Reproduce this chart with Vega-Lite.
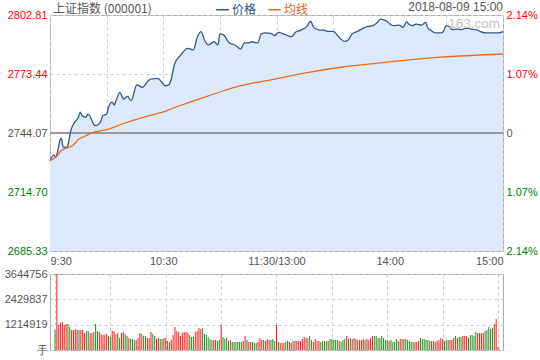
{
"$schema": "https://vega.github.io/schema/vega-lite/v6.json",
"padding": {"left": 3, "top": 0, "right": 0, "bottom": 0},
"background": "white",
"config": {
  "font": "Liberation Sans",
  "view": {"stroke": "#aaaaaa", "strokeWidth": 1},
  "axis": {"labelFont": "Liberation Sans", "labelFontSize": 11, "labelColor": "#555555", "ticks": false, "domain": false, "gridColor": "#cccccc", "gridDash": [3, 3], "title": null, "labelPadding": 3},
  "title": {"font": "Liberation Sans", "fontSize": 12, "fontWeight": "normal", "color": "#555555"}
},
"datasets": {
  "px": [
    {"t":0,"s":"价格","p":2730.3},{"t":2,"s":"价格","p":2733.1},{"t":3,"s":"价格","p":2732.1},{"t":4,"s":"价格","p":2734.6},{"t":5,"s":"价格","p":2739.4},{"t":6,"s":"价格","p":2741.4},{"t":7,"s":"价格","p":2737.0},{"t":9,"s":"价格","p":2737.0},{"t":10,"s":"价格","p":2740.2},{"t":11,"s":"价格","p":2745.2},{"t":12,"s":"价格","p":2747.7},{"t":13,"s":"价格","p":2749.4},{"t":15,"s":"价格","p":2751.9},{"t":16,"s":"价格","p":2754.4},{"t":17,"s":"价格","p":2752.7},{"t":19,"s":"价格","p":2751.9},{"t":20,"s":"价格","p":2753.5},{"t":21,"s":"价格","p":2752.7},{"t":23,"s":"价格","p":2748.6},{"t":24,"s":"价格","p":2747.7},{"t":26,"s":"价格","p":2748.6},{"t":27,"s":"价格","p":2750.2},{"t":28,"s":"价格","p":2752.7},{"t":30,"s":"价格","p":2753.5},{"t":31,"s":"价格","p":2756.9},{"t":33,"s":"价格","p":2759.4},{"t":34,"s":"价格","p":2758.0},{"t":35,"s":"价格","p":2760.2},{"t":37,"s":"价格","p":2764.3},{"t":39,"s":"价格","p":2761.0},{"t":41,"s":"价格","p":2762.3},{"t":43,"s":"价格","p":2760.2},{"t":46,"s":"价格","p":2768.0},{"t":49,"s":"价格","p":2766.8},{"t":52,"s":"价格","p":2770.1},{"t":54,"s":"价格","p":2771.0},{"t":57,"s":"价格","p":2771.3},{"t":59,"s":"价格","p":2769.6},{"t":61,"s":"价格","p":2767.6},{"t":63,"s":"价格","p":2768.0},{"t":64,"s":"价格","p":2770.1},{"t":66,"s":"价格","p":2778.4},{"t":69,"s":"价格","p":2782.6},{"t":73,"s":"价格","p":2786.2},{"t":76,"s":"价格","p":2785.4},{"t":78,"s":"价格","p":2791.7},{"t":80,"s":"价格","p":2794.5},{"t":82,"s":"价格","p":2790.0},{"t":84,"s":"价格","p":2787.9},{"t":87,"s":"价格","p":2789.5},{"t":89,"s":"价格","p":2787.9},{"t":90,"s":"价格","p":2793.4},{"t":92,"s":"价格","p":2792.9},{"t":95,"s":"价格","p":2788.9},{"t":98,"s":"价格","p":2787.9},{"t":101,"s":"价格","p":2785.9},{"t":103,"s":"价格","p":2788.9},{"t":105,"s":"价格","p":2788.9},{"t":107,"s":"价格","p":2789.5},{"t":110,"s":"价格","p":2788.9},{"t":112,"s":"价格","p":2793.4},{"t":114,"s":"价格","p":2793.9},{"t":117,"s":"价格","p":2793.7},{"t":119,"s":"价格","p":2792.5},{"t":121,"s":"价格","p":2794.2},{"t":123,"s":"价格","p":2793.7},{"t":126,"s":"价格","p":2792.5},{"t":128,"s":"价格","p":2792.0},{"t":130,"s":"价格","p":2794.2},{"t":133,"s":"价格","p":2795.3},{"t":136,"s":"价格","p":2797.0},{"t":138,"s":"价格","p":2799.7},{"t":140,"s":"价格","p":2796.3},{"t":143,"s":"价格","p":2795.3},{"t":145,"s":"价格","p":2795.3},{"t":147,"s":"价格","p":2794.7},{"t":150,"s":"价格","p":2794.7},{"t":152,"s":"价格","p":2793.0},{"t":154,"s":"价格","p":2790.9},{"t":156,"s":"价格","p":2789.7},{"t":158,"s":"价格","p":2790.4},{"t":160,"s":"价格","p":2793.4},{"t":163,"s":"价格","p":2794.7},{"t":166,"s":"价格","p":2796.3},{"t":168,"s":"价格","p":2797.0},{"t":171,"s":"价格","p":2797.5},{"t":173,"s":"价格","p":2798.7},{"t":175,"s":"价格","p":2800.8},{"t":178,"s":"价格","p":2800.0},{"t":180,"s":"价格","p":2798.3},{"t":182,"s":"价格","p":2797.5},{"t":185,"s":"价格","p":2797.8},{"t":187,"s":"价格","p":2796.7},{"t":189,"s":"价格","p":2799.5},{"t":190,"s":"价格","p":2798.3},{"t":192,"s":"价格","p":2797.5},{"t":194,"s":"价格","p":2798.3},{"t":197,"s":"价格","p":2797.8},{"t":199,"s":"价格","p":2799.2},{"t":200,"s":"价格","p":2796.7},{"t":202,"s":"价格","p":2795.0},{"t":204,"s":"价格","p":2793.9},{"t":206,"s":"价格","p":2793.9},{"t":208,"s":"价格","p":2794.2},{"t":210,"s":"价格","p":2797.5},{"t":212,"s":"价格","p":2796.7},{"t":213,"s":"价格","p":2795.5},{"t":216,"s":"价格","p":2795.8},{"t":218,"s":"价格","p":2795.5},{"t":220,"s":"价格","p":2796.2},{"t":222,"s":"价格","p":2796.2},{"t":223,"s":"价格","p":2795.8},{"t":226,"s":"价格","p":2795.5},{"t":228,"s":"价格","p":2794.5},{"t":231,"s":"价格","p":2793.9},{"t":234,"s":"价格","p":2793.9},{"t":236,"s":"价格","p":2793.9},{"t":238,"s":"价格","p":2793.9},{"t":240,"s":"价格","p":2794.5},
    {"t":0,"s":"均线","p":2730.3},{"t":3,"s":"均线","p":2732.0},{"t":6,"s":"均线","p":2735.3},{"t":9,"s":"均线","p":2736.6},{"t":12,"s":"均线","p":2737.8},{"t":15,"s":"均线","p":2740.8},{"t":19,"s":"均线","p":2742.7},{"t":22,"s":"均线","p":2744.1},{"t":30,"s":"均线","p":2745.7},{"t":39,"s":"均线","p":2748.8},{"t":48,"s":"均线","p":2751.5},{"t":56,"s":"均线","p":2753.5},{"t":62,"s":"均线","p":2755.2},{"t":65,"s":"均线","p":2756.4},{"t":75,"s":"均线","p":2759.7},{"t":84,"s":"均线","p":2762.6},{"t":92,"s":"均线","p":2765.1},{"t":101,"s":"均线","p":2767.6},{"t":117,"s":"均线","p":2770.5},{"t":137,"s":"均线","p":2774.3},{"t":154,"s":"均线","p":2776.8},{"t":181,"s":"均线","p":2779.6},{"t":207,"s":"均线","p":2781.8},{"t":240,"s":"均线","p":2783.4}
  ],
  "vol": [
    {"t":0,"v":959000,"c":"g"},{"t":1,"v":3644756,"c":"r"},{"t":2,"v":1213000,"c":"r"},{"t":3,"v":1295000,"c":"r"},{"t":4,"v":1343000,"c":"r"},{"t":5,"v":1199000,"c":"r"},{"t":6,"v":1247000,"c":"r"},{"t":7,"v":1247000,"c":"g"},{"t":8,"v":1103000,"c":"g"},{"t":9,"v":959000,"c":"r"},
    {"t":10,"v":959000,"c":"r"},{"t":11,"v":1007000,"c":"r"},{"t":12,"v":959000,"c":"r"},{"t":13,"v":959000,"c":"g"},{"t":14,"v":959000,"c":"r"},{"t":15,"v":959000,"c":"r"},{"t":16,"v":815000,"c":"r"},{"t":17,"v":911000,"c":"g"},{"t":18,"v":911000,"c":"g"},{"t":19,"v":815000,"c":"r"},
    {"t":20,"v":815000,"c":"r"},{"t":21,"v":863000,"c":"g"},{"t":22,"v":1247000,"c":"g"},{"t":23,"v":911000,"c":"g"},{"t":24,"v":863000,"c":"r"},{"t":25,"v":767000,"c":"r"},{"t":26,"v":719000,"c":"r"},{"t":27,"v":719000,"c":"r"},{"t":28,"v":767000,"c":"r"},{"t":29,"v":671000,"c":"g"},
    {"t":30,"v":623000,"c":"g"},{"t":31,"v":911000,"c":"r"},{"t":32,"v":911000,"c":"r"},{"t":33,"v":767000,"c":"r"},{"t":34,"v":815000,"c":"g"},{"t":35,"v":575000,"c":"g"},{"t":36,"v":815000,"c":"r"},{"t":37,"v":863000,"c":"r"},{"t":38,"v":767000,"c":"g"},{"t":39,"v":671000,"c":"g"},
    {"t":40,"v":575000,"c":"r"},{"t":41,"v":528000,"c":"g"},{"t":42,"v":528000,"c":"g"},{"t":43,"v":480000,"c":"g"},{"t":44,"v":480000,"c":"r"},{"t":45,"v":575000,"c":"r"},{"t":46,"v":815000,"c":"r"},{"t":47,"v":767000,"c":"r"},{"t":48,"v":671000,"c":"g"},{"t":49,"v":671000,"c":"g"},
    {"t":50,"v":575000,"c":"r"},{"t":51,"v":575000,"c":"r"},{"t":52,"v":863000,"c":"r"},{"t":53,"v":767000,"c":"g"},{"t":54,"v":671000,"c":"g"},{"t":55,"v":528000,"c":"r"},{"t":56,"v":575000,"c":"r"},{"t":57,"v":528000,"c":"g"},{"t":58,"v":528000,"c":"g"},{"t":59,"v":575000,"c":"r"},
    {"t":60,"v":575000,"c":"r"},{"t":61,"v":432000,"c":"g"},{"t":62,"v":384000,"c":"r"},{"t":63,"v":480000,"c":"r"},{"t":64,"v":719000,"c":"r"},{"t":65,"v":1103000,"c":"r"},{"t":66,"v":911000,"c":"r"},{"t":67,"v":863000,"c":"r"},{"t":68,"v":671000,"c":"r"},{"t":69,"v":815000,"c":"r"},
    {"t":70,"v":863000,"c":"r"},{"t":71,"v":863000,"c":"r"},{"t":72,"v":815000,"c":"r"},{"t":73,"v":719000,"c":"g"},{"t":74,"v":623000,"c":"g"},{"t":75,"v":623000,"c":"g"},{"t":76,"v":863000,"c":"r"},{"t":77,"v":911000,"c":"r"},{"t":78,"v":1055000,"c":"r"},{"t":79,"v":1007000,"c":"r"},
    {"t":80,"v":1055000,"c":"g"},{"t":81,"v":767000,"c":"g"},{"t":82,"v":719000,"c":"g"},{"t":83,"v":623000,"c":"g"},{"t":84,"v":528000,"c":"g"},{"t":85,"v":480000,"c":"g"},{"t":86,"v":480000,"c":"r"},{"t":87,"v":480000,"c":"r"},{"t":88,"v":432000,"c":"g"},{"t":89,"v":480000,"c":"g"},
    {"t":90,"v":1199000,"c":"r"},{"t":91,"v":623000,"c":"g"},{"t":92,"v":528000,"c":"g"},{"t":93,"v":575000,"c":"g"},{"t":94,"v":432000,"c":"g"},{"t":95,"v":480000,"c":"r"},{"t":96,"v":384000,"c":"g"},{"t":97,"v":384000,"c":"g"},{"t":98,"v":384000,"c":"g"},{"t":99,"v":384000,"c":"g"},
    {"t":100,"v":384000,"c":"g"},{"t":101,"v":384000,"c":"g"},{"t":102,"v":432000,"c":"r"},{"t":103,"v":671000,"c":"r"},{"t":104,"v":480000,"c":"g"},{"t":105,"v":384000,"c":"r"},{"t":106,"v":384000,"c":"r"},{"t":107,"v":384000,"c":"g"},{"t":108,"v":336000,"c":"g"},{"t":109,"v":336000,"c":"g"},
    {"t":110,"v":384000,"c":"r"},{"t":111,"v":575000,"c":"r"},{"t":112,"v":480000,"c":"r"},{"t":113,"v":480000,"c":"g"},{"t":114,"v":432000,"c":"r"},{"t":115,"v":528000,"c":"r"},{"t":116,"v":480000,"c":"r"},{"t":117,"v":480000,"c":"g"},{"t":118,"v":528000,"c":"g"},{"t":119,"v":432000,"c":"g"},
    {"t":120,"v":1199000,"c":"r"},{"t":121,"v":384000,"c":"g"},{"t":122,"v":336000,"c":"r"},{"t":123,"v":336000,"c":"r"},{"t":124,"v":336000,"c":"r"},{"t":125,"v":384000,"c":"g"},{"t":126,"v":432000,"c":"g"},{"t":127,"v":384000,"c":"r"},{"t":128,"v":336000,"c":"r"},{"t":129,"v":432000,"c":"g"},
    {"t":130,"v":432000,"c":"r"},{"t":131,"v":432000,"c":"r"},{"t":132,"v":432000,"c":"r"},{"t":133,"v":432000,"c":"r"},{"t":134,"v":528000,"c":"r"},{"t":135,"v":623000,"c":"r"},{"t":136,"v":575000,"c":"r"},{"t":137,"v":575000,"c":"g"},{"t":138,"v":671000,"c":"g"},{"t":139,"v":480000,"c":"r"},
    {"t":140,"v":384000,"c":"g"},{"t":141,"v":528000,"c":"r"},{"t":142,"v":432000,"c":"r"},{"t":143,"v":432000,"c":"r"},{"t":144,"v":384000,"c":"g"},{"t":145,"v":432000,"c":"g"},{"t":146,"v":432000,"c":"g"},{"t":147,"v":432000,"c":"g"},{"t":148,"v":432000,"c":"r"},{"t":149,"v":528000,"c":"g"},
    {"t":150,"v":528000,"c":"g"},{"t":151,"v":480000,"c":"g"},{"t":152,"v":480000,"c":"g"},{"t":153,"v":480000,"c":"g"},{"t":154,"v":432000,"c":"r"},{"t":155,"v":384000,"c":"g"},{"t":156,"v":480000,"c":"g"},{"t":157,"v":528000,"c":"g"},{"t":158,"v":671000,"c":"r"},{"t":159,"v":528000,"c":"g"},
    {"t":160,"v":575000,"c":"r"},{"t":161,"v":528000,"c":"g"},{"t":162,"v":575000,"c":"r"},{"t":163,"v":528000,"c":"r"},{"t":164,"v":480000,"c":"g"},{"t":165,"v":480000,"c":"r"},{"t":166,"v":480000,"c":"r"},{"t":167,"v":528000,"c":"r"},{"t":168,"v":480000,"c":"g"},{"t":169,"v":528000,"c":"r"},
    {"t":170,"v":480000,"c":"r"},{"t":171,"v":575000,"c":"r"},{"t":172,"v":671000,"c":"r"},{"t":173,"v":671000,"c":"g"},{"t":174,"v":671000,"c":"g"},{"t":175,"v":575000,"c":"g"},{"t":176,"v":575000,"c":"g"},{"t":177,"v":671000,"c":"g"},{"t":178,"v":575000,"c":"g"},{"t":179,"v":480000,"c":"g"},
    {"t":180,"v":480000,"c":"g"},{"t":181,"v":432000,"c":"r"},{"t":182,"v":480000,"c":"g"},{"t":183,"v":384000,"c":"g"},{"t":184,"v":384000,"c":"g"},{"t":185,"v":528000,"c":"g"},{"t":186,"v":432000,"c":"g"},{"t":187,"v":528000,"c":"r"},{"t":188,"v":528000,"c":"r"},{"t":189,"v":528000,"c":"g"},
    {"t":190,"v":528000,"c":"g"},{"t":191,"v":480000,"c":"g"},{"t":192,"v":432000,"c":"g"},{"t":193,"v":384000,"c":"g"},{"t":194,"v":384000,"c":"g"},{"t":195,"v":384000,"c":"r"},{"t":196,"v":384000,"c":"r"},{"t":197,"v":432000,"c":"r"},{"t":198,"v":575000,"c":"g"},{"t":199,"v":528000,"c":"g"},
    {"t":200,"v":528000,"c":"g"},{"t":201,"v":480000,"c":"g"},{"t":202,"v":480000,"c":"g"},{"t":203,"v":432000,"c":"g"},{"t":204,"v":432000,"c":"r"},{"t":205,"v":432000,"c":"r"},{"t":206,"v":384000,"c":"g"},{"t":207,"v":432000,"c":"r"},{"t":208,"v":480000,"c":"r"},{"t":209,"v":575000,"c":"r"},
    {"t":210,"v":528000,"c":"r"},{"t":211,"v":432000,"c":"g"},{"t":212,"v":480000,"c":"g"},{"t":213,"v":480000,"c":"g"},{"t":214,"v":480000,"c":"r"},{"t":215,"v":480000,"c":"r"},{"t":216,"v":575000,"c":"r"},{"t":217,"v":671000,"c":"g"},{"t":218,"v":575000,"c":"r"},{"t":219,"v":623000,"c":"g"},
    {"t":220,"v":623000,"c":"g"},{"t":221,"v":671000,"c":"r"},{"t":222,"v":671000,"c":"r"},{"t":223,"v":671000,"c":"r"},{"t":224,"v":575000,"c":"g"},{"t":225,"v":719000,"c":"g"},{"t":226,"v":719000,"c":"g"},{"t":227,"v":671000,"c":"g"},{"t":228,"v":863000,"c":"g"},{"t":229,"v":815000,"c":"r"},
    {"t":230,"v":815000,"c":"r"},{"t":231,"v":815000,"c":"r"},{"t":232,"v":815000,"c":"r"},{"t":233,"v":911000,"c":"g"},{"t":234,"v":959000,"c":"g"},{"t":235,"v":1103000,"c":"g"},{"t":236,"v":1007000,"c":"g"},{"t":237,"v":1055000,"c":"g"},{"t":238,"v":1247000,"c":"r"},{"t":239,"v":1487000,"c":"r"},
    {"t":240,"v":144000,"c":"r"}
  ]
},
"bounds": "flush",
"spacing": 23,
"resolve": {"scale": {"color": "independent"}, "legend": {"color": "independent"}},
"vconcat": [
  {
    "width": 453,
    "height": 236,
    "title": {"text": "2018-08-09 15:00", "anchor": "end", "frame": "group", "font": "Liberation Sans", "fontSize": 12, "offset": -12},
    "data": {"name": "px"},
    "layer": [
      {
        "transform": [{"filter": "datum.s === '价格'"}],
        "mark": {"type": "area", "color": "#dce8fb", "interpolate": "monotone"},
        "encoding": {
          "x": {"field": "t", "type": "quantitative", "scale": {"domain": [0, 240], "nice": false, "zero": false},
                "axis": {"values": [0, 30, 60, 90, 120, 150, 180, 210, 240], "labelFlush": true, "labelPadding": 4,
                         "labelExpr": "datum.value == 0 ? '9:30' : datum.value == 60 ? '10:30' : datum.value == 120 ? '11:30/13:00' : datum.value == 180 ? '14:00' : datum.value == 240 ? '15:00' : ''"}},
          "y": {"field": "p", "type": "quantitative", "scale": {"domain": [2685.33, 2802.81], "nice": false, "zero": false},
                "axis": {"values": [2685.33, 2714.70, 2744.07, 2773.44, 2802.81], "format": ".2f",
                         "labelColor": {"condition": [{"test": "datum.value > 2744.1", "value": "#ff0000"}, {"test": "datum.value < 2744", "value": "#008000"}], "value": "#555555"}}},
          "y2": {"datum": 2685.33}
        }
      },
      {
        "mark": {"type": "rule", "color": "#999999", "strokeWidth": 1},
        "encoding": {"y": {"datum": 2744.07, "type": "quantitative", "axis": null}}
      },
      {
        "mark": {"type": "line", "strokeWidth": 1.3, "interpolate": "monotone"},
        "encoding": {
          "x": {"field": "t", "type": "quantitative"},
          "y": {"field": "p", "type": "quantitative",
                "axis": {"orient": "right", "grid": false, "values": [2685.33, 2714.70, 2744.07, 2773.44, 2802.81],
                         "labelExpr": "abs(datum.value - 2744.07) < 0.01 ? '0' : format(abs(datum.value - 2744.07) / 2744.07 * 100, '.2f') + '%'",
                         "labelColor": {"condition": [{"test": "datum.value > 2744.1", "value": "#ff0000"}, {"test": "datum.value < 2744", "value": "#008000"}], "value": "#555555"}}},
          "color": {"field": "s", "type": "nominal", "sort": ["价格", "均线"],
                    "scale": {"domain": ["价格", "均线"], "range": ["#34578a", "#ec6a1e"]},
                    "legend": {"orient": "none", "legendX": 3, "legendY": -13, "direction": "horizontal",
                               "title": "上证指数 (000001)", "titleOrient": "left", "titlePadding": 63,
                               "titleFont": "Noto Sans CJK SC", "titleFontSize": 12, "titleFontWeight": "normal", "titleColor": "#555555",
                               "symbolType": "stroke", "symbolSize": 160, "symbolStrokeWidth": 1.5,
                               "labelFont": "Noto Sans CJK SC", "labelFontSize": 12, "labelOffset": 2, "columnPadding": 8,
                               "encode": {"labels": {"update": {"fill": {"signal": "datum.value === '价格' ? '#2a4a7f' : '#e8601a'"}}}}}}
        }
      },
      {
        "data": {"values": [{"w": "163.com"}]},
        "mark": {"type": "text", "align": "right", "baseline": "top", "dx": -3, "dy": 2, "fontSize": 13.5, "color": "#c4c4c4", "font": "Liberation Sans"},
        "encoding": {
          "x": {"datum": 240, "type": "quantitative"},
          "y": {"datum": 2802.81, "type": "quantitative", "axis": null},
          "text": {"field": "w"}
        }
      }
    ],
    "resolve": {"axis": {"y": "independent"}}
  },
  {
    "width": 453,
    "height": 76,
    "data": {"name": "vol"},
    "mark": {"type": "bar", "size": 1},
    "encoding": {
      "x": {"field": "t", "type": "quantitative", "scale": {"domain": [0, 240], "nice": false, "zero": false},
            "axis": {"values": [0, 30, 60, 90, 120, 150, 180, 210, 240], "labels": false}},
      "y": {"field": "v", "type": "quantitative", "scale": {"domain": [0, 3644756], "nice": false},
            "axis": {"values": [0, 1214919, 2429837, 3644756], "labelExpr": "datum.value == 0 ? '手' : format(datum.value, 'd')"}},
      "color": {"field": "c", "type": "nominal", "scale": {"domain": ["r", "g"], "range": ["#ff1a1a", "#1f8f1f"]}, "legend": null}
    }
  }
]
}
